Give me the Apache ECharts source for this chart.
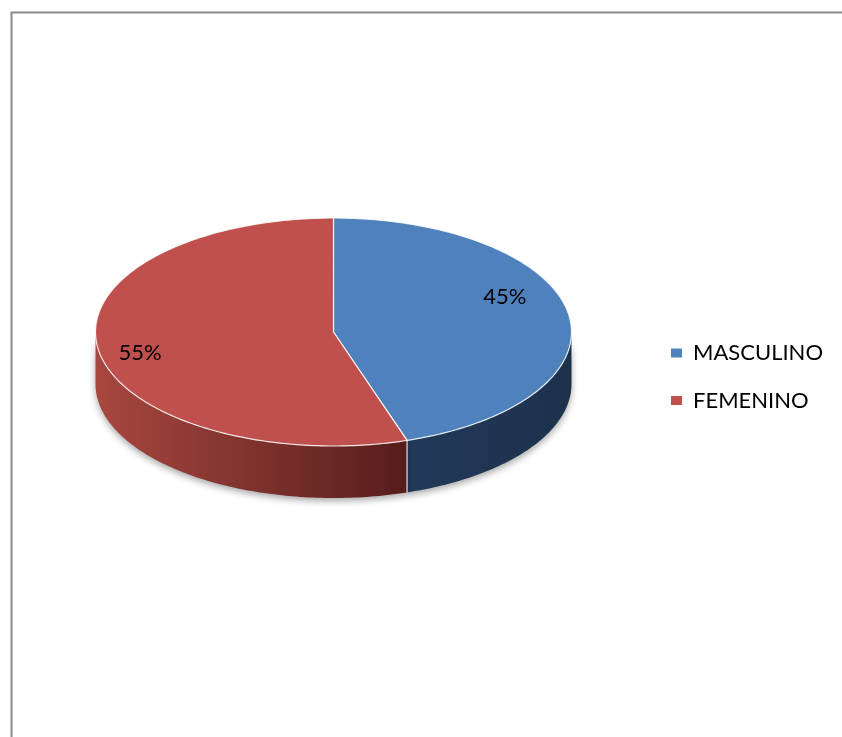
<!DOCTYPE html>
<html><head><meta charset="utf-8">
<script src="https://cdn.jsdelivr.net/npm/echarts@6/dist/echarts.min.js"></script>
<style>html,body{margin:0;padding:0;background:#fff}#c{width:842px;height:737px}</style>
</head><body><div id="c"></div>
<script>
// ---- data ----
const categories = ['MASCULINO', 'FEMENINO'];
const values = [45, 55];

// ---- style ----
const topColors = ['#4F81BD', '#C0504D'];
const wallColors = [['#22395A', '#1D314B'], ['#A8473F', '#561D1B']];

const CX = 333.5, CY = 332, RX = 238, RY = 114, DEPTH = 52;
const total = values.reduce((a, b) => a + b, 0);

function pt(deg, dz) {
  const r = deg * Math.PI / 180;
  return [CX + RX * Math.sin(r), CY - RY * Math.cos(r) + (dz || 0)];
}
function arc(a, b, dz) {
  const pts = [];
  const n = Math.max(2, Math.ceil(Math.abs(b - a)));
  for (let i = 0; i <= n; i++) pts.push(pt(a + (b - a) * i / n, dz));
  return pts;
}

function makeRender(idx) {
  return function (params, api) {
    let before = 0;
    for (let k = 0; k < idx; k++) before += values[k];
    const v = api.value(0);
    const a1 = before / total * 360, a2 = (before + v) / total * 360;
    const children = [];
    const s = Math.max(a1, 90), e = Math.min(a2, 270);
    if (s < e) {
      const top = arc(s, e, 0);
      const bot = arc(e, s, DEPTH);
      children.push({
        type: 'polygon',
        shape: { points: top.concat(bot) },
        style: {
          fill: new echarts.graphic.LinearGradient(0, 0, 1, 0, [
            { offset: 0, color: wallColors[idx][0] },
            { offset: 1, color: wallColors[idx][1] }
          ]),
          shadowBlur: 7, shadowColor: 'rgba(0,0,0,0.35)', shadowOffsetY: 3
        }
      });
      if (a1 > 90 && a1 < 270) {
        const p = pt(a1, 0);
        children.push({
          type: 'line',
          shape: { x1: p[0], y1: p[1], x2: p[0], y2: p[1] + DEPTH },
          style: { stroke: 'rgba(255,255,255,0.85)', lineWidth: 1.2 }
        });
      }
    }
    children.push({
      type: 'polygon',
      shape: { points: [[CX, CY]].concat(arc(a1, a2, 0)) },
      style: { fill: topColors[idx], stroke: 'rgba(255,255,255,0.85)', lineWidth: 1.2 }
    });
    const mid = (a1 + a2) / 2 * Math.PI / 180;
    children.push({
      type: 'text',
      style: {
        text: Math.round(v / total * 100) + '%',
        x: CX - 11 + 0.776 * RX * Math.sin(mid),
        y: CY - 7 - 0.75 * RX * Math.cos(mid),
        align: 'center', verticalAlign: 'middle',
        font: '22px Lato', fill: '#000'
      }
    });
    return { type: 'group', children: children };
  };
}

const chart = echarts.init(document.getElementById('c'));
chart.setOption({
  animation: false,
  backgroundColor: '#fff',
  graphic: [{
    type: 'rect', left: 9, top: 10, silent: true,
    shape: { x: 0, y: 0, width: 900, height: 800 },
    style: { fill: 'none', stroke: '#8a8a8a', lineWidth: 2 }
  }],
  legend: {
    orient: 'vertical',
    left: 671, top: 342, padding: 0,
    itemWidth: 11, itemHeight: 9, itemGap: 25.5,
    icon: 'rect',
    data: categories,
    textStyle: { fontFamily: 'Lato', fontSize: 22, color: '#000', lineHeight: 22, padding: [0, 0, 0, 6] }
  },
  series: categories.map((name, i) => ({
    type: 'custom',
    name: name,
    coordinateSystem: 'none',
    itemStyle: { color: topColors[i] },
    data: [[values[i]]],
    renderItem: makeRender(i)
  }))
});
</script>
</body></html>
